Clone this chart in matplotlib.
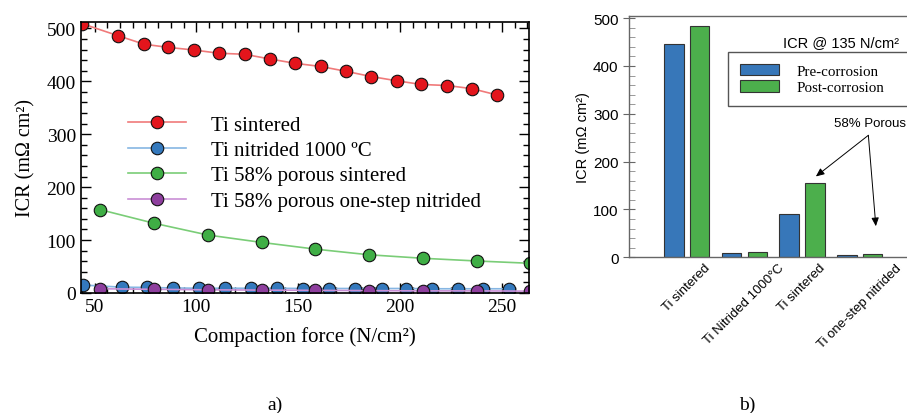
import matplotlib
matplotlib.use("Agg")
import matplotlib.pyplot as plt
from matplotlib.ticker import MultipleLocator
import numpy as np

# --- panel a: ICR vs compaction force ---
sint_x = [43.8, 61.6, 74.4, 86.3, 99.0, 111.0, 123.7, 136.3, 148.4, 161.0,
          173.3, 185.8, 198.3, 210.4, 223.2, 235.4, 247.8]
sint_y = [509, 486, 470, 464, 459, 453, 451, 442, 434, 428,
          419, 409, 401, 394, 392, 386, 374]

nitr_x = [44.5, 63.4, 75.9, 88.7, 101.5, 114.1, 126.9, 139.6, 152.4, 165.2,
          178.0, 191.0, 203.0, 215.6, 228.4, 241.0, 253.7]
nitr_y = [15, 11, 10.5, 9.5, 9, 9, 9, 9, 8.5, 8.5,
          8.5, 8.5, 8.5, 8, 8, 8, 8]

por_x = [52.7, 79.2, 105.6, 132.0, 158.4, 184.8, 211.2, 237.6, 264.0]
por_y = [157.5, 131.8, 109.6, 95.6, 82.9, 72.2, 65.6, 60.5, 56.1]

por_nitr_x = [52.7, 79.2, 105.6, 132.0, 158.4, 184.8, 211.2, 237.6, 264.0]
por_nitr_y = [8, 7, 6, 5.5, 5, 4.5, 4, 4, 3.5]

labels_a = ["Ti sintered", "Ti nitrided 1000 \u00baC", "Ti 58% porous sintered",
            "Ti 58% porous one-step nitrided"]

# --- panel b: ICR at 135 N/cm2 before/after corrosion ---
samples = ["Ti sintered", "Ti Nitrided 1000\u00b0C", "Ti sintered", "Ti one-step nitrided"]
pre_corr = [445, 8, 91, 4.5]
post_corr = [483, 11, 155, 7]

W, H = 907, 414
fig = plt.figure(figsize=(W / 100, H / 100), dpi=100)

def px_axes(l, t, r, b):
    return [l / W, 1 - b / H, (r - l) / W, (b - t) / H]

serif = "Liberation Serif"
sans = "Liberation Sans"

ax = fig.add_axes(px_axes(80.7, 23, 528.7, 294))
series = [
    (sint_x, sint_y, "#e3151c", "#f07a7a"),
    (nitr_x, nitr_y, "#3479bd", "#86b6e3"),
    (por_x, por_y, "#3fae45", "#7acd77"),
    (por_nitr_x, por_nitr_y, "#8e3f9e", "#c98fd6"),
]
for (x, y, mc, lc), lab in zip(series, labels_a):
    ax.plot(x, y, "-o", color=lc, lw=1.2, ms=9, mfc=mc, mec="#111111",
            mew=0.8, label=lab)

ax.set_xlim(43.2, 263.2)
ax.set_ylim(0, 512)
ax.xaxis.set_major_locator(MultipleLocator(50))
ax.xaxis.set_minor_locator(MultipleLocator(6.25))
ax.yaxis.set_major_locator(MultipleLocator(100))
ax.yaxis.set_minor_locator(MultipleLocator(20))
ax.tick_params(which="both", direction="in", top=True, right=True,
               labelsize=14, width=1.0)
ax.tick_params(which="major", length=7)
ax.tick_params(which="minor", length=4)
for t in ax.get_xticklabels() + ax.get_yticklabels():
    t.set_fontfamily(serif)
for s in ax.spines.values():
    s.set_linewidth(1.2)
ax.set_xlabel("Compaction force (N/cm\u00b2)", fontsize=15, family=serif,
              labelpad=8)
ax.set_ylabel("ICR (m\u03a9 cm\u00b2)", fontsize=14.5, family=serif, labelpad=8)
ax.legend(loc="upper left", bbox_to_anchor=(128 / W, 1 - 116 / H),
          bbox_transform=fig.transFigure, frameon=False,
          prop={"family": serif, "size": 15}, handlelength=2.8,
          handletextpad=1.2, labelspacing=0.28, borderaxespad=0,
          borderpad=0)

# --- panel b ---
bx = fig.add_axes(px_axes(629, 16.7, 907, 258.3))
idx = np.arange(len(samples))
bw = 0.34
bx.bar(idx - 0.225, pre_corr, bw, color="#3777b9", edgecolor="#333333",
       lw=0.8, label="Pre-corrosion")
bx.bar(idx + 0.225, post_corr, bw, color="#4caf4c", edgecolor="#333333",
       lw=0.8, label="Post-corrosion")
bx.set_xlim(-1.0, 3.82)
bx.set_ylim(0, 505)
bx.yaxis.set_major_locator(MultipleLocator(100))
bx.yaxis.set_minor_locator(MultipleLocator(20))
bx.set_xticks(idx)
bx.set_xticklabels(samples, rotation=45, ha="center", va="top",
                   family=sans, fontsize=9.5)
bx.tick_params(axis="x", length=0, pad=3)
bx.tick_params(axis="y", which="major", direction="inout", length=8,
               color="#666666", labelsize=11)
bx.tick_params(axis="y", which="minor", direction="in", length=4,
               color="#888888")
for t in bx.get_yticklabels():
    t.set_fontfamily(sans)
for name, s in bx.spines.items():
    s.set_color("#666666")
    s.set_linewidth(1.0)
bx.spines["right"].set_visible(False)
bx.set_ylabel("ICR (m\u03a9 cm\u00b2)", family=sans, fontsize=10.5, labelpad=2)

bx.legend(loc="upper left", bbox_to_anchor=(728 / W, 1 - 53 / H - 0.13, 0.21, 0.13),
          bbox_transform=fig.transFigure, mode="expand", borderaxespad=0,
          prop={"family": serif, "size": 10.8}, fancybox=False,
          edgecolor="#555555", framealpha=1, handlelength=2.6,
          handleheight=0.8, handletextpad=1.2, labelspacing=0.15,
          borderpad=0.8)
bx.get_legend().get_frame().set_linewidth(1.0)
fig.text(841 / W, 1 - 43 / H, "ICR @ 135 N/cm\u00b2", ha="center", va="center",
         family=sans, fontsize=10.5)

# arrows pointing at the porous samples
arrow = dict(arrowstyle="-|>,head_length=0.5,head_width=0.22", color="black",
             lw=0.7, shrinkA=0, shrinkB=0)
bx.annotate("", xy=(2.24, 169), xytext=(3.15, 255), arrowprops=arrow)
bx.annotate("", xy=(3.28, 65), xytext=(3.15, 255), arrowprops=arrow)
bx.text(3.18, 280, "58% Porous", ha="center", va="center", family=sans,
        fontsize=9.5)

fig.text(275 / W, 1 - 405 / H, "a)", ha="center", va="center", family=serif,
         fontsize=14)
fig.text(747 / W, 1 - 405 / H, "b)", ha="center", va="center", family=serif,
         fontsize=14)

fig.savefig("out.png", dpi=100)
